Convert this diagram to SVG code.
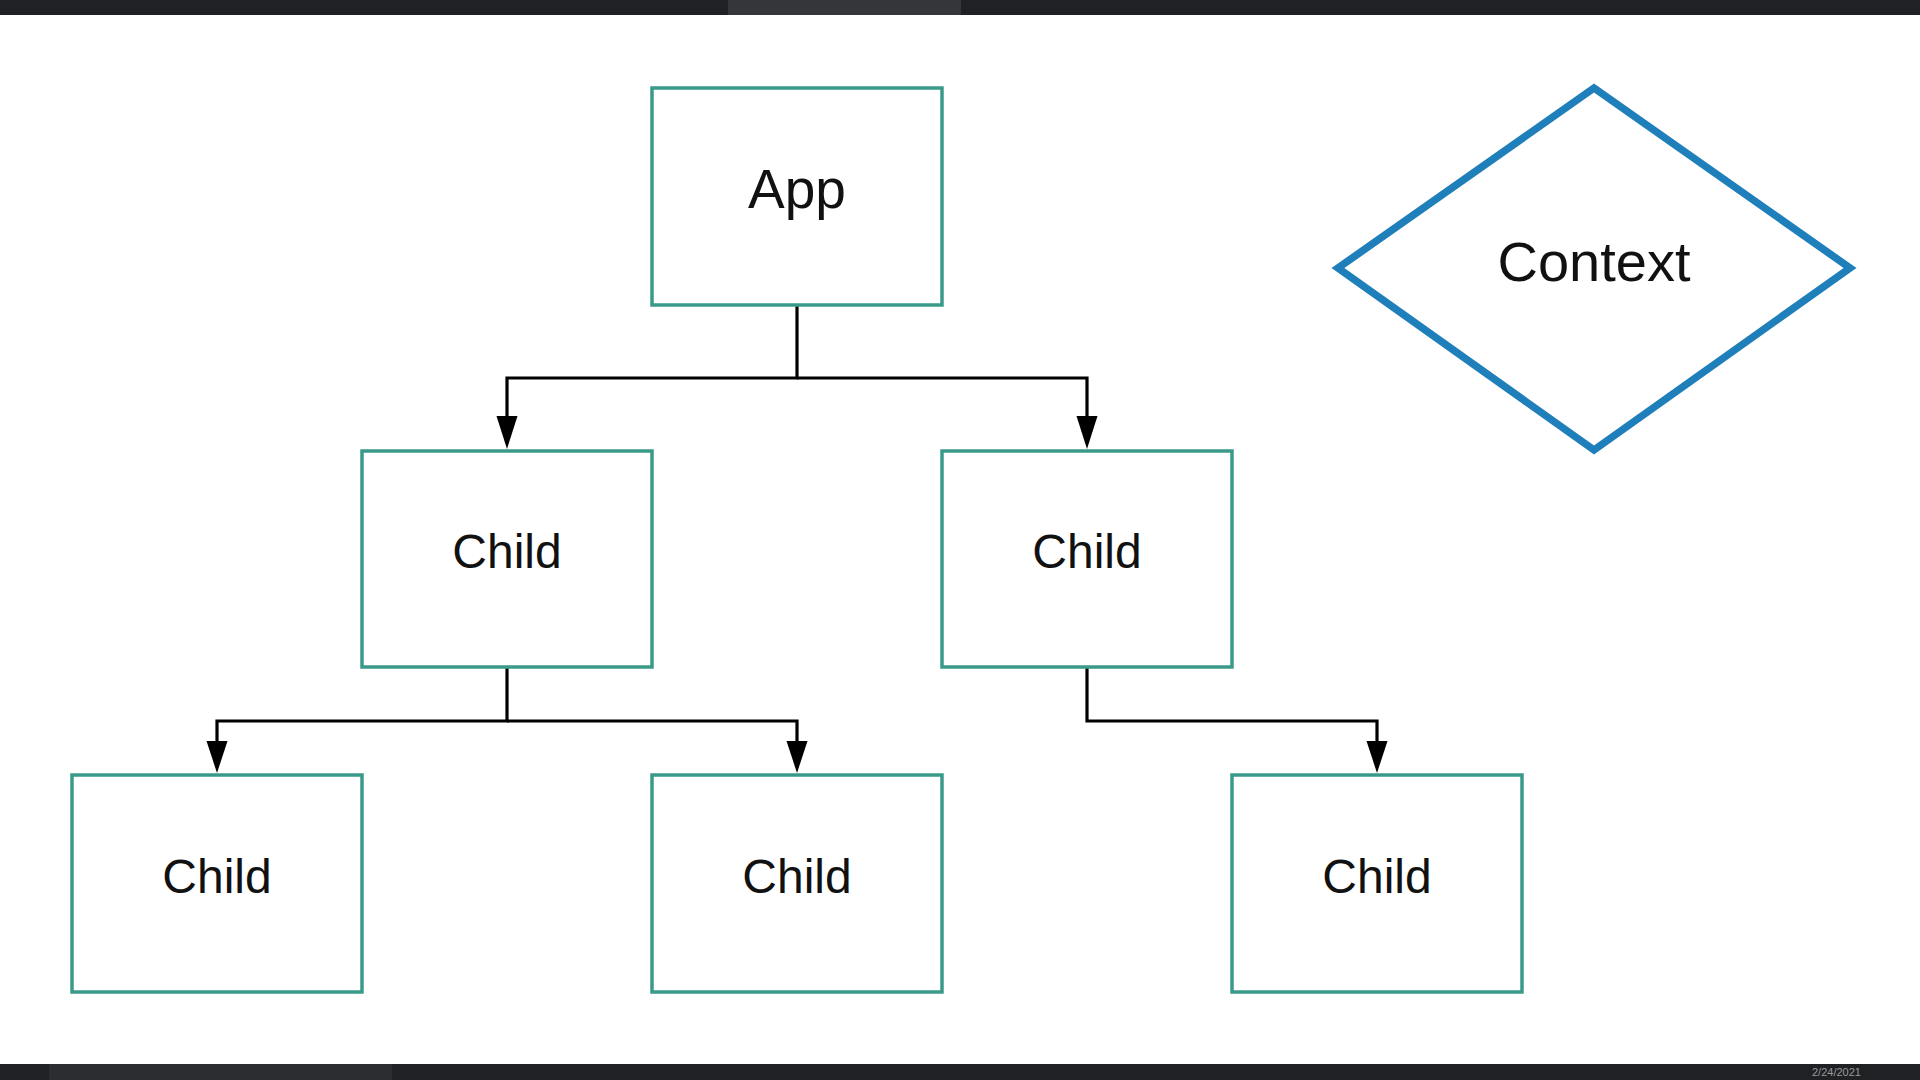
<svg xmlns="http://www.w3.org/2000/svg" width="1920" height="1080" viewBox="0 0 1920 1080">
  <style>
    .box { fill: #ffffff; stroke: #3a9a89; stroke-width: 3.5; }
    .ctx { fill: #ffffff; stroke: #1f7fba; stroke-width: 7.5; stroke-linejoin: miter; }
    .lbl { font-family: "Liberation Sans", Arial, sans-serif; fill: #111111; text-anchor: middle; }
    .edge { fill: none; stroke: #000000; stroke-width: 3.2; }
    .head { fill: #000000; }
    .bar { fill: #202124; }
    .ui { font-family: "Liberation Sans", Arial, sans-serif; fill: #9a9a9a; font-size: 11px; }
  </style>

  <rect x="0" y="0" width="1920" height="1080" fill="#ffffff"/>

  <!-- window chrome -->
  <g id="chrome">
    <rect class="bar" x="0" y="0" width="1920" height="15"/>
    <rect x="728" y="0" width="233" height="15" fill="#35363a"/>
    <rect class="bar" x="0" y="1064" width="1920" height="16"/>
    <rect x="49" y="1064" width="343" height="16" fill="#2c2d30"/>
    <text class="ui" x="1812" y="1076">2/24/2021</text>
  </g>

  <!-- connectors -->
  <g id="connectors">
    <path class="edge" d="M797,305 V378 H507 V420"/>
    <path class="edge" d="M797,378 H1087 V420"/>
    <path class="edge" d="M507,667 V721 H217 V745"/>
    <path class="edge" d="M507,721 H797 V745"/>
    <path class="edge" d="M1087,667 V721 H1377 V745"/>
    <path class="head" d="M496.5,416 L517.5,416 L507,449 Z"/>
    <path class="head" d="M1076.5,416 L1097.5,416 L1087,449 Z"/>
    <path class="head" d="M206.5,741 L227.5,741 L217,773 Z"/>
    <path class="head" d="M786.5,741 L807.5,741 L797,773 Z"/>
    <path class="head" d="M1366.5,741 L1387.5,741 L1377,773 Z"/>
  </g>

  <g id="app">
    <rect class="box" x="652" y="88" width="290" height="217"/>
    <text class="lbl" x="797" y="208" font-size="55">App</text>
  </g>

  <g id="context">
    <polygon class="ctx" points="1594,88 1850,268 1594,450 1338,268"/>
    <text class="lbl" x="1594" y="281" font-size="56">Context</text>
  </g>

  <g id="child1">
    <rect class="box" x="362" y="451" width="290" height="216"/>
    <text class="lbl" x="507" y="568" font-size="48">Child</text>
  </g>
  <g id="child2">
    <rect class="box" x="942" y="451" width="290" height="216"/>
    <text class="lbl" x="1087" y="568" font-size="48">Child</text>
  </g>
  <g id="child3">
    <rect class="box" x="72" y="775" width="290" height="217"/>
    <text class="lbl" x="217" y="893" font-size="48">Child</text>
  </g>
  <g id="child4">
    <rect class="box" x="652" y="775" width="290" height="217"/>
    <text class="lbl" x="797" y="893" font-size="48">Child</text>
  </g>
  <g id="child5">
    <rect class="box" x="1232" y="775" width="290" height="217"/>
    <text class="lbl" x="1377" y="893" font-size="48">Child</text>
  </g>
</svg>
